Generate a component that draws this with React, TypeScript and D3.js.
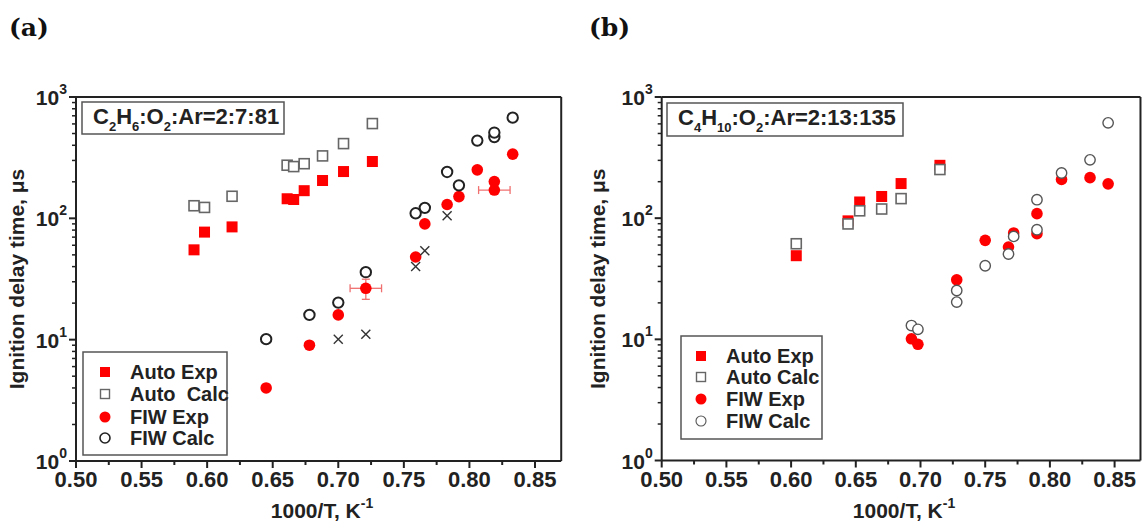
import React from "react";
import * as d3 from "d3";

type Pt = [number, number];
type Err = [number, number, number, number]; // x, y, ±dx, ±dy

// Shared axis ticks
const xTicks = [0.5, 0.55, 0.6, 0.65, 0.7, 0.75, 0.8, 0.85];
const xMinorTicks = [0.525, 0.575, 0.625, 0.675, 0.725, 0.775, 0.825];
const yDecades = [0, 1, 2, 3];

// Panel (a): C2H6 mixture
const c2h6AutoExp: Pt[] = [
  [0.59, 55], [0.598, 77], [0.619, 85], [0.661, 145], [0.666, 143],
  [0.674, 169], [0.688, 205], [0.704, 243], [0.726, 294],
];
const c2h6AutoCalc: Pt[] = [
  [0.59, 127], [0.598, 123], [0.619, 152], [0.661, 274], [0.666, 267],
  [0.674, 282], [0.688, 327], [0.704, 413], [0.726, 604],
];
const c2h6FiwExp: Pt[] = [
  [0.645, 4.0], [0.678, 9.0], [0.7, 16], [0.721, 26.5], [0.759, 48],
  [0.766, 90], [0.783, 130], [0.792, 151], [0.806, 251], [0.819, 201],
  [0.819, 171], [0.833, 338],
];
const c2h6FiwCalc: Pt[] = [
  [0.645, 10.1], [0.678, 16], [0.7, 20.2], [0.721, 36], [0.759, 110],
  [0.766, 122], [0.783, 241], [0.792, 187], [0.806, 437], [0.819, 467],
  [0.819, 509], [0.833, 676],
];
const c2h6Cross: Pt[] = [
  [0.7, 10.1], [0.721, 11.1], [0.759, 40], [0.766, 54], [0.783, 105],
];
const c2h6Errors: Err[] = [
  [0.721, 26.5, 0.012, 5],
  [0.819, 171, 0.012, 0],
];
const c2h6Legend = ["Auto Exp", "Auto  Calc", "FIW Exp", "FIW Calc"];
const c2h6Title = [
  { t: "C" }, { t: "2", sub: true }, { t: "H" }, { t: "6", sub: true },
  { t: ":O" }, { t: "2", sub: true }, { t: ":Ar=2:7:81" },
];

// Panel (b): C4H10 mixture
const c4h10AutoExp: Pt[] = [
  [0.604, 49], [0.644, 95], [0.653, 136], [0.67, 151], [0.685, 193], [0.715, 273],
];
const c4h10AutoCalc: Pt[] = [
  [0.604, 61.5], [0.644, 89.6], [0.653, 115], [0.67, 119], [0.685, 145], [0.715, 252],
];
const c4h10FiwExp: Pt[] = [
  [0.693, 10.1], [0.698, 9.1], [0.728, 31], [0.75, 65.6], [0.768, 57.8],
  [0.772, 75.5], [0.79, 109], [0.79, 74.5], [0.809, 209], [0.831, 216],
  [0.845, 192],
];
const c4h10FiwCalc: Pt[] = [
  [0.693, 13.0], [0.698, 12.1], [0.728, 25.3], [0.728, 20.3], [0.75, 40.5],
  [0.768, 50.6], [0.772, 70.7], [0.79, 142], [0.79, 80.3], [0.809, 236],
  [0.831, 303], [0.845, 612],
];
const c4h10Legend = ["Auto Exp", "Auto Calc", "FIW Exp", "FIW Calc"];
const c4h10Title = [
  { t: "C" }, { t: "4", sub: true }, { t: "H" }, { t: "10", sub: true },
  { t: ":O" }, { t: "2", sub: true }, { t: ":Ar=2:13:135" },
];

const FONT = "'Liberation Sans', Arial, sans-serif";
const INK = "#222";
const RED = "#ff0000";

type Part = { t: string; sub?: boolean };

interface PanelProps {
  tag: string;
  tagX: number;
  left: number;
  top: number;
  bottom: number;
  xMax: number;
  pxPerUnit: number;
  autoExp: Pt[];
  autoCalc: Pt[];
  fiwExp: Pt[];
  fiwCalc: Pt[];
  crosses: Pt[];
  errors: Err[];
  legend: string[];
  title: Part[];
  titleBox: { x: number; y: number; w: number; h: number };
  legendBox: { x: number; y: number; w: number; h: number; rows: number[]; mx: number; tx: number };
  calcStroke: string;
  calcWidth: number;
  yTitleX: number;
  xTitleX: number;
}

function Panel(p: PanelProps) {
  const right = p.left + (p.xMax - 0.5) * p.pxPerUnit;
  const x = d3.scaleLinear().domain([0.5, p.xMax]).range([p.left, right]);
  const y = d3.scaleLog().domain([1, 1000]).range([p.bottom, p.top]);

  const minorY: number[] = [];
  for (let d = 0; d < 3; d++) {
    for (let m = 2; m <= 9; m++) minorY.push(m * Math.pow(10, d));
  }

  const sq = (cx: number, cy: number, s: number, fill: string, stroke: string, sw: number, key: string) => (
    <rect key={key} x={cx - s / 2} y={cy - s / 2} width={s} height={s} fill={fill} stroke={stroke} strokeWidth={sw} />
  );

  const lb = p.legendBox;

  return (
    <g>
      <text x={p.tagX} y={36} fontFamily="'DejaVu Serif', serif" fontWeight="bold" fontSize={25} fill="#111">
        {p.tag}
      </text>

      {/* frame */}
      <line x1={p.left} x2={right} y1={p.top} y2={p.top} stroke={INK} strokeWidth={2} />
      <line x1={right} x2={right} y1={p.top} y2={p.bottom} stroke={INK} strokeWidth={2} />
      <line x1={p.left} x2={right} y1={p.bottom} y2={p.bottom} stroke={INK} strokeWidth={2} />
      <line x1={p.left} x2={p.left} y1={p.top} y2={p.bottom} stroke={INK} strokeWidth={2} />

      {/* x ticks */}
      {xTicks.map((t) => (
        <g key={"xt" + t}>
          <line x1={x(t)} x2={x(t)} y1={p.bottom} y2={p.bottom + 7} stroke={INK} strokeWidth={2} />
          <text x={x(t)} y={p.bottom + 26} textAnchor="middle" fontFamily={FONT} fontWeight="bold" fontSize={22} fill={INK}>
            {d3.format(".2f")(t)}
          </text>
        </g>
      ))}
      {xMinorTicks.map((t) => (
        <line key={"xm" + t} x1={x(t)} x2={x(t)} y1={p.bottom} y2={p.bottom + 4} stroke={INK} strokeWidth={2} />
      ))}

      {/* y ticks */}
      {yDecades.map((d) => {
        const yy = y(Math.pow(10, d));
        return (
          <g key={"yt" + d}>
            <line x1={p.left - 7} x2={p.left} y1={yy} y2={yy} stroke={INK} strokeWidth={2} />
            <text x={p.left - 9} y={yy + 8} textAnchor="end" fontFamily={FONT} fontWeight="bold" fontSize={21} fill={INK}>
              10<tspan fontSize={14} dy={-11}>{d}</tspan>
            </text>
          </g>
        );
      })}
      {minorY.map((v) => (
        <line key={"ym" + v} x1={p.left - 4} x2={p.left} y1={y(v)} y2={y(v)} stroke={INK} strokeWidth={1.5} />
      ))}

      {/* axis titles */}
      <text x={p.xTitleX} y={p.bottom + 57} textAnchor="middle" fontFamily={FONT} fontWeight="bold" fontSize={21} fill={INK}>
        1000/T, K<tspan fontSize={14} dy={-10}>-1</tspan>
      </text>
      <text
        transform={`translate(${p.yTitleX},${(p.top + p.bottom) / 2}) rotate(-90)`}
        textAnchor="middle"
        fontFamily={FONT}
        fontWeight="bold"
        fontSize={21}
        fill={INK}
      >
        Ignition delay time, μs
      </text>

      {/* mixture box */}
      <rect x={p.titleBox.x} y={p.titleBox.y} width={p.titleBox.w} height={p.titleBox.h} fill="white" stroke="#555" strokeWidth={1.5} />
      <text x={p.titleBox.x + 11} y={p.titleBox.y + 22} fontFamily={FONT} fontWeight="bold" fontSize={22} fill={INK}>
        {p.title.map((part, i) =>
          part.sub ? (
            <tspan key={i} fontSize={13} dy={7}>{part.t}</tspan>
          ) : (
            <tspan key={i} dy={i > 0 && p.title[i - 1].sub ? -7 : 0}>{part.t}</tspan>
          )
        )}
      </text>

      {/* error bars */}
      {p.errors.map(([ex, ey, dx, dy], i) => {
        const cx = x(ex);
        const cy = y(ey);
        const x0 = x(ex - dx);
        const x1 = x(ex + dx);
        return (
          <g key={"err" + i} stroke="#f07070" strokeWidth={1.3}>
            <line x1={x0} x2={x1} y1={cy} y2={cy} />
            <line x1={x0} x2={x0} y1={cy - 4} y2={cy + 4} />
            <line x1={x1} x2={x1} y1={cy - 4} y2={cy + 4} />
            {dy > 0 && (
              <>
                <line x1={cx} x2={cx} y1={y(ey + dy)} y2={y(ey - dy)} />
                <line x1={cx - 4} x2={cx + 4} y1={y(ey + dy)} y2={y(ey + dy)} />
                <line x1={cx - 4} x2={cx + 4} y1={y(ey - dy)} y2={y(ey - dy)} />
              </>
            )}
          </g>
        );
      })}

      {/* data */}
      {p.autoExp.map(([a, b], i) => sq(x(a), y(b), 11, RED, "none", 0, "ae" + i))}
      {p.autoCalc.map(([a, b], i) => sq(x(a), y(b), 10, "white", "#666", 1.6, "ac" + i))}
      {p.fiwExp.map(([a, b], i) => (
        <circle key={"fe" + i} cx={x(a)} cy={y(b)} r={5.8} fill={RED} />
      ))}
      {p.fiwCalc.map(([a, b], i) => (
        <circle key={"fc" + i} cx={x(a)} cy={y(b)} r={5.2} fill="white" stroke={p.calcStroke} strokeWidth={p.calcWidth} />
      ))}
      {p.crosses.map(([a, b], i) => {
        const cx = x(a);
        const cy = y(b);
        return (
          <g key={"cr" + i} stroke="#333" strokeWidth={1.4}>
            <line x1={cx - 4.5} x2={cx + 4.5} y1={cy - 4.5} y2={cy + 4.5} />
            <line x1={cx - 4.5} x2={cx + 4.5} y1={cy + 4.5} y2={cy - 4.5} />
          </g>
        );
      })}

      {/* legend */}
      <rect x={lb.x} y={lb.y} width={lb.w} height={lb.h} fill="white" stroke="#555" strokeWidth={1.5} />
      {sq(lb.mx, lb.rows[0], 10, RED, "none", 0, "lg0")}
      {sq(lb.mx, lb.rows[1], 9, "white", "#666", 1.4, "lg1")}
      <circle cx={lb.mx} cy={lb.rows[2]} r={5.5} fill={RED} />
      <circle cx={lb.mx} cy={lb.rows[3]} r={5} fill="white" stroke={p.calcStroke} strokeWidth={p.calcWidth * 0.8} />
      {p.legend.map((s, i) => (
        <text key={"lt" + i} x={lb.tx} y={lb.rows[i] + 7} fontFamily={FONT} fontWeight="bold" fontSize={20} fill={INK} style={{ whiteSpace: "pre" }}>
          {s}
        </text>
      ))}
    </g>
  );
}

export default function App() {
  return (
    <svg width={1148} height={524} viewBox="0 0 1148 524" style={{ display: "block", position: "absolute", left: 0, top: 0, background: "white" }}>
      <rect width={1148} height={524} fill="white" />
      <Panel
        tag="(a)"
        tagX={9}
        left={76}
        top={97}
        bottom={461}
        xMax={0.87}
        pxPerUnit={1311.4}
        autoExp={c2h6AutoExp}
        autoCalc={c2h6AutoCalc}
        fiwExp={c2h6FiwExp}
        fiwCalc={c2h6FiwCalc}
        crosses={c2h6Cross}
        errors={c2h6Errors}
        legend={c2h6Legend}
        title={c2h6Title}
        titleBox={{ x: 82, y: 102, w: 202, h: 32 }}
        legendBox={{ x: 83, y: 352, w: 144, h: 103, rows: [372, 394, 417, 438], mx: 105, tx: 130 }}
        calcStroke="#222"
        calcWidth={2}
        yTitleX={24}
        xTitleX={322}
      />
      <Panel
        tag="(b)"
        tagX={589}
        left={661.7}
        top={97}
        bottom={460.5}
        xMax={0.87}
        pxPerUnit={1294}
        autoExp={c4h10AutoExp}
        autoCalc={c4h10AutoCalc}
        fiwExp={c4h10FiwExp}
        fiwCalc={c4h10FiwCalc}
        crosses={[]}
        errors={[]}
        legend={c4h10Legend}
        title={c4h10Title}
        titleBox={{ x: 667, y: 103, w: 236, h: 33 }}
        legendBox={{ x: 681, y: 336, w: 141, h: 103, rows: [356, 377, 399, 421], mx: 701, tx: 726 }}
        calcStroke="#555"
        calcWidth={1.4}
        yTitleX={605}
        xTitleX={904}
      />
    </svg>
  );
}
